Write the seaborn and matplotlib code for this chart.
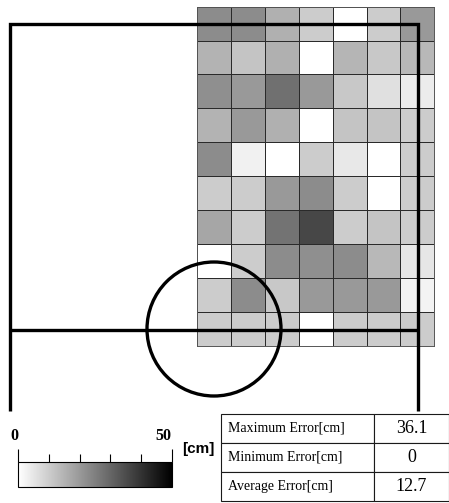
import numpy as np
import pandas as pd
import matplotlib.pyplot as plt
import seaborn as sns
from matplotlib.colors import LinearSegmentedColormap
from matplotlib.patches import Circle

# error per grid cell [cm], 10 rows x 7 columns
row0 = [22.5, 22.5, 15.5, 10.0, 0.0, 10.0, 20.0]
row1 = [14.9, 11.6, 15.5, 0.0, 14.5, 10.8, 13.9]
row2 = [22.0, 20.0, 28.0, 20.0, 10.8, 6.1, 3.9]
row3 = [14.9, 20.0, 15.5, 0.0, 11.6, 11.6, 10.0]
row4 = [22.5, 2.9, 0.0, 10.0, 4.5, 0.0, 10.0]
row5 = [10.0, 10.0, 20.0, 22.5, 10.0, 0.0, 10.0]
row6 = [17.5, 10.0, 27.5, 36.1, 10.0, 11.6, 10.0]
row7 = [0.0, 10.0, 22.5, 22.0, 22.5, 13.9, 4.9]
row8 = [10.0, 22.5, 10.8, 20.0, 20.0, 20.0, 2.5]
row9 = [10.0, 10.0, 10.0, 0.0, 10.0, 10.0, 10.0]

stat_labels = ['Maximum Error[cm]', 'Minimum Error[cm]', 'Average Error[cm]']
stat_values = ['36.1', '0', '12.7']

cbar_min, cbar_max = 0, 50
cbar_minor = [10, 20, 30, 40]

grid = pd.DataFrame([row0, row1, row2, row3, row4, row5, row6, row7, row8, row9])

W, H = 449, 503


def px(x0, y0, x1, y1):
    # pixel box -> figure rect
    return [x0 / W, 1 - y1 / H, (x1 - x0) / W, (y1 - y0) / H]


fig = plt.figure(figsize=(W / 100, H / 100), dpi=100)

hax = fig.add_axes(px(197.3, 6.7, 434.3, 345.7))
cax = fig.add_axes(px(18.3, 461.7, 171.7, 486.7))

cmap = LinearSegmentedColormap.from_list('wb', ['#ffffff', '#000000'])
sns.heatmap(grid, ax=hax, cmap=cmap, vmin=cbar_min, vmax=cbar_max,
            linewidths=0.7, linecolor='#2a2a2a',
            xticklabels=False, yticklabels=False,
            cbar=True, cbar_ax=cax,
            cbar_kws={'orientation': 'horizontal', 'ticks': [cbar_min, cbar_max]})
for sp in hax.spines.values():
    sp.set_visible(True)
    sp.set_linewidth(0.7)
    sp.set_edgecolor('#555555')

cbar = hax.collections[0].colorbar
cbar.outline.set_linewidth(0.8)
cbar.outline.set_edgecolor('black')
cax.xaxis.set_ticks_position('top')
cax.set_xticks(cbar_minor, minor=True)
cax.tick_params(which='major', length=9.6, width=0.8, direction='out', pad=3,
                top=True, bottom=False, labeltop=True, labelbottom=False)
cax.tick_params(which='minor', length=6, width=0.8, direction='out',
                top=True, bottom=False)
cax.set_xticklabels([str(cbar_min), str(cbar_max)],
                    fontfamily='Liberation Serif', fontweight='bold', fontsize=11.5)
for lab in cax.get_xticklabels():
    lab.set_ha('right')

# overlay in pixel coordinates
ax = fig.add_axes([0, 0, 1, 1])
ax.set_xlim(0, W)
ax.set_ylim(H, 0)
ax.axis('off')
ax.patch.set_alpha(0)

lw = 2.4
ax.plot([10, 10, 418, 418], [411, 23.5, 23.5, 411], color='black', lw=lw,
        solid_joinstyle='miter', solid_capstyle='butt')
ax.plot([10, 418], [329.5, 329.5], color='black', lw=lw, solid_capstyle='butt')
ax.add_patch(Circle((214, 329), 67, fill=False, edgecolor='black', lw=lw))

ax.text(182.3, 449.5, '[cm]', ha='left', va='center', fontsize=11,
        fontweight='bold', fontfamily='Liberation Sans')

tbl = ax.table(cellText=[[l, v] for l, v in zip(stat_labels, stat_values)],
               colWidths=[153.6, 74.2], cellLoc='center',
               bbox=[220.7 / W, 1 - 500.7 / H, (448.5 - 220.7) / W, (500.7 - 414) / H])
tbl.auto_set_font_size(False)
for (r, c), cell in tbl.get_celld().items():
    cell.set_linewidth(0.8)
    cell.set_edgecolor('#1a1a1a')
    txt = cell.get_text()
    txt.set_fontfamily('Liberation Serif')
    if c == 0:
        cell._loc = 'left'
        cell.PAD = 0.05
        txt.set_ha('left')
        txt.set_fontsize(10)
    else:
        txt.set_fontsize(13)

fig.savefig('out.png', dpi=100)
